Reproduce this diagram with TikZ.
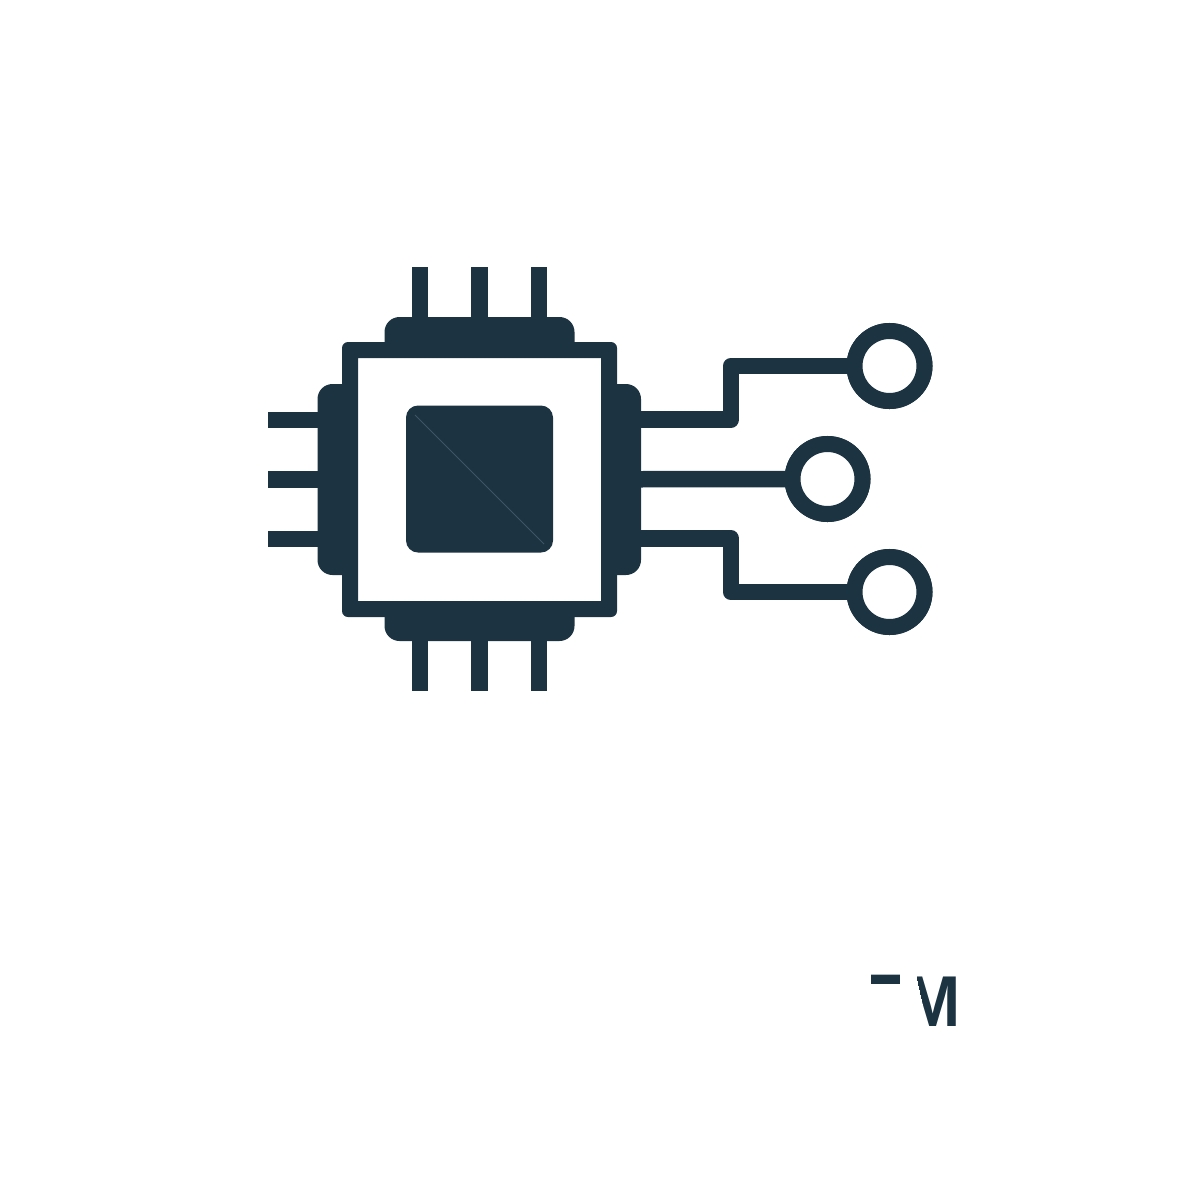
\documentclass[tikz,border=0pt]{standalone}
\usepackage{fontspec}
\setmainfont{Liberation Sans}
\definecolor{ink}{HTML}{1C3342}
\definecolor{seam}{HTML}{3E5566}
\tikzset{
  pin/.style={draw=ink,line width=8.25pt},
  trace/.style={draw=ink,line width=8.25pt,line join=round},
  pad/.style={fill=ink},
  ring/.style={circle,draw=ink,fill=white,line width=8pt,inner sep=0pt,minimum size=35pt},
  glyph/.style={text=ink,inner sep=0pt,font=\fontsize{36}{36}\selectfont\bfseries}
}
\begin{document}
\begin{tikzpicture}[x=0.5pt,y=-0.5pt]
\useasboundingbox (0,0) rectangle (1200,1200);
% pins
\foreach \p in {419.75,479.25,538.75}{
  \draw[pin] (\p,267) -- (\p,320);
  \draw[pin] (\p,640) -- (\p,691);
  \draw[pin] (268,\p) -- (320,\p);
}
% pads
\fill[pad] (384.5,345) [rounded corners=7.5pt] -- (384.5,317) -- (574.5,317) [sharp corners] -- (574.5,345) -- cycle;
\fill[pad] (384.5,615) [rounded corners=7.5pt] -- (384.5,641) -- (574.5,641) [sharp corners] -- (574.5,615) -- cycle;
\fill[pad] (345,384) [rounded corners=7.5pt] -- (317.5,384) -- (317.5,575) [sharp corners] -- (345,575) -- cycle;
\fill[pad] (615,384) [rounded corners=7.5pt] -- (641,384) -- (641,575) [sharp corners] -- (615,575) -- cycle;
% frame
\fill[pad,even odd rule] [rounded corners=3pt] (342,342) rectangle (617,617) [sharp corners] (358,358) rectangle (601,601);
% die
\fill[pad,rounded corners=6pt] (406,405.5) rectangle (553,552.5);
\draw[seam,line width=0.4pt] (415,415) -- (544,544);
% traces and rings
\node[ring] (c1) at (889.5,366) {};
\node[ring] (c2) at (827.5,479) {};
\node[ring] (c3) at (889.5,592) {};
\coordinate (t1) at (636,419.5);
\coordinate (t2) at (636,479.25);
\coordinate (t3) at (636,538.5);
\coordinate (k1) at (731,419.5);
\coordinate (k3) at (731,538.5);
\draw[trace] (t1) -- (k1) |- (c1.center);
\draw[trace] (t2) -- (c2.center);
\draw[trace] (t3) -- (k3) |- (c3.center);
\node[ring] at (c1.center) {};
\node[ring] at (c2.center) {};
\node[ring] at (c3.center) {};
% clipped mark
\begin{scope}
\clip (871,970) rectangle (899,983);
\node[glyph,anchor=north east,yscale=1.4] (tm1) at (908,975) {T};
\end{scope}
\begin{scope}
\clip (915,970) -- (962,970) -- (962,1035) -- (929,1035) -- cycle;
\node[glyph,anchor=north east,xscale=0.92] (tm2) at (961,977) {M};
\end{scope}
\end{tikzpicture}
\end{document}
